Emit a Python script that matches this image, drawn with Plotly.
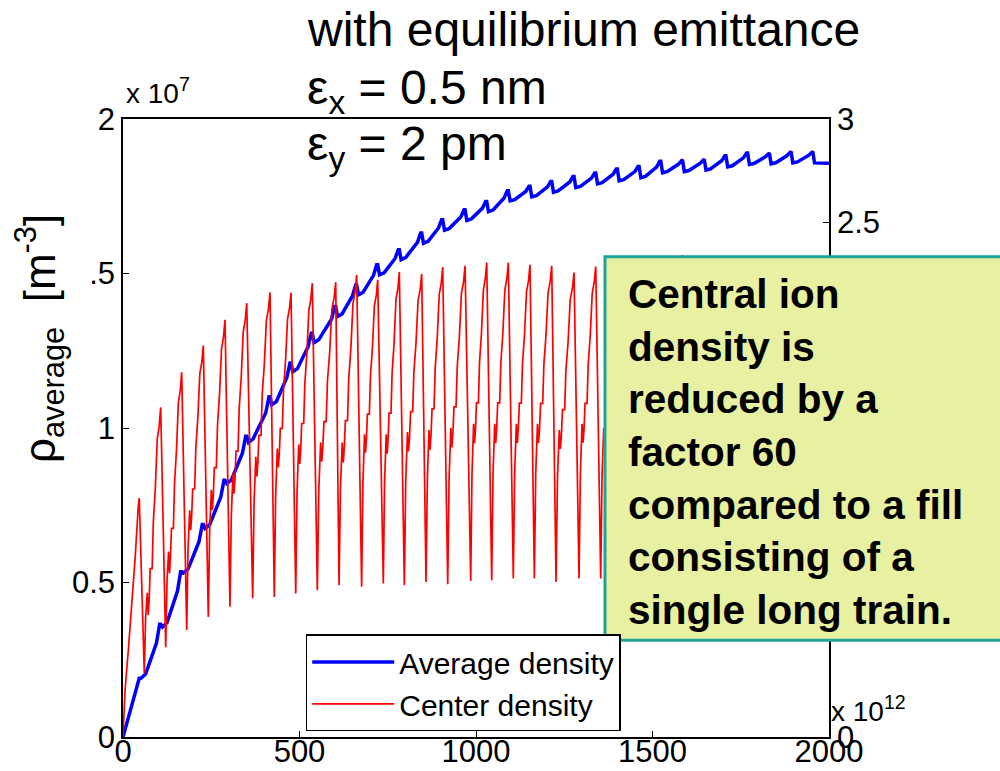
import plotly.graph_objects as go

# ---------------- data ----------------
# Center density (right axis, x1e12): start of first train
red_start_x = [0, 2, 5.7, 15, 24.6, 34, 43.3]
red_start_y = [0, 0.10, 0.227, 0.42, 0.63, 0.86, 1.12]

# peaks of each train (end of train) and the trough after each gap
red_peak_x = [46, 106.8, 166.3, 227.5, 289, 350.5, 416.5, 476, 536.3, 602.6, 662, 721.6,
              782.8, 846.2, 905.7, 969, 1030.4, 1091.6, 1153, 1214.5, 1277.7, 1339.2,
              1400.5, 1462, 1523.5, 1585, 1646.5, 1708, 1769.5, 1831, 1892.5, 1954, 2015.5]
red_peak_y = [1.16, 1.60, 1.77, 1.90, 2.025, 2.106, 2.158, 2.157, 2.203, 2.208, 2.243, 2.219,
              2.257, 2.248, 2.281, 2.287, 2.303, 2.303, 2.292, 2.287, 2.255, 2.284,
              2.29, 2.29, 2.30, 2.34, 2.30, 2.30, 2.31, 2.30, 2.31, 2.30, 2.30]
red_trough_x = [60.3, 121, 180.5, 241.7, 303, 367.4, 428.6, 489.3, 550.5, 612, 676, 737.4,
                797, 858.4, 919.9, 985, 1044.5, 1105.7, 1165.3, 1226.7, 1291.9, 1353.3,
                1414.5, 1476, 1537.5, 1599, 1660.5, 1722, 1783.5, 1845, 1906.5, 1968]
red_trough_y = [0.31, 0.436, 0.52, 0.583, 0.632, 0.674, 0.68, 0.697, 0.713, 0.737, 0.729, 0.745,
                0.737, 0.753, 0.741, 0.757, 0.761, 0.77, 0.77, 0.753, 0.77, 0.77,
                0.77, 0.77, 0.77, 0.77, 0.77, 0.77, 0.77, 0.77, 0.77, 0.77]
# level reached just after the fast rise following each trough
red_mid_y = [0.70, 0.90, 1.10, 1.20, 1.28, 1.36, 1.40, 1.42, 1.43, 1.43, 1.47, 1.47,
             1.48, 1.49, 1.50, 1.52, 1.52, 1.52, 1.52, 1.49, 1.52, 1.50,
             1.52, 1.52, 1.52, 1.52, 1.52, 1.52, 1.52, 1.52, 1.52, 1.52]

# Average density (left axis, x1e7): value at end of each train and after each gap
blue_hi = [0.19, 0.365, 0.535, 0.688, 0.831, 0.973, 1.101, 1.21, 1.307, 1.393, 1.463, 1.528,
           1.577, 1.631, 1.674, 1.706, 1.733, 1.768, 1.782, 1.798, 1.814, 1.825,
           1.838, 1.846, 1.863, 1.868, 1.87, 1.881, 1.89, 1.89, 1.895, 1.895]
blue_lo = [0.19, 0.356, 0.531, 0.675, 0.82, 0.953, 1.075, 1.182, 1.276, 1.361, 1.431, 1.496,
           1.545, 1.598, 1.64, 1.672, 1.70, 1.735, 1.748, 1.763, 1.778, 1.79,
           1.80, 1.81, 1.826, 1.83, 1.835, 1.845, 1.853, 1.855, 1.858, 1.858]
blue_end_x = 2000
blue_end_y = 1.857

x_ticks = [0, 500, 1000, 1500, 2000]
x_tick_text = ["0", "500", "1000", "1500", "2000"]
yl_ticks = [0, 0.5, 1, 1.5, 2]
yl_tick_text = ["0", "0.5", "1", ".5", "2"]
yr_ticks = [0, 0.5, 1, 1.5, 2, 2.5, 3]
yr_tick_text = ["0", "", "1", "1.5", "2", "2.5", "3"]

# ---------------- build polylines ----------------
# shape of one staircase rise (fractions of the trough->peak interval)
rise_frac = [0.08, 0.18, 0.24, 0.30, 0.36, 0.48, 0.55, 0.67, 0.79, 0.91]

def rise(t, m, p):
    d = p - m
    return [t + 0.68 * (m - t), m, m - 0.12 * d, m - 0.03 * d, m + 0.13 * d,
            m + 0.13 * d, m + 0.38 * d, m + 0.56 * d, m + 0.83 * d, m + 0.90 * d]

red_x = list(red_start_x)
red_y = list(red_start_y)
n = len(red_trough_x)
for k in range(n):
    red_x.append(red_peak_x[k]); red_y.append(red_peak_y[k])
    xt, t = red_trough_x[k], red_trough_y[k]
    red_x.append(xt); red_y.append(t)
    L = red_peak_x[k + 1] - xt
    vals = rise(t, red_mid_y[k], red_peak_y[k + 1])
    for f, v in zip(rise_frac, vals):
        red_x.append(xt + f * L); red_y.append(v)
red_x.append(red_peak_x[n]); red_y.append(red_peak_y[n])

blue_x = [0]
blue_y = [0]
nb = len(blue_hi)
for k in range(nb):
    xp = red_peak_x[k]
    blue_x.append(xp); blue_y.append(blue_hi[k])
    blue_x.append(xp + 5); blue_y.append(blue_lo[k])
    if k + 1 < nb:
        xn = red_peak_x[k + 1]
        dlt = blue_hi[k + 1] - blue_lo[k]
        blue_x += [xp + 18, xn - 12, xn - 3]
        blue_y += [blue_lo[k] + 0.08 * dlt, blue_lo[k] + 0.65 * dlt, blue_hi[k + 1]]
blue_x.append(blue_end_x); blue_y.append(blue_end_y)

# ---------------- figure ----------------
FONT = "Liberation Sans, Arial, sans-serif"

fig = go.Figure()
fig.add_trace(go.Scatter(x=blue_x, y=blue_y, mode="lines", name="Average density",
                         line=dict(color="#0000ff", width=3.5), yaxis="y"))
fig.add_trace(go.Scatter(x=red_x, y=red_y, mode="lines", name="Center density",
                         line=dict(color="#ff0000", width=1.7), yaxis="y2"))

axis_common = dict(showgrid=False, zeroline=False, showline=True, linecolor="black",
                   linewidth=1.5, ticks="inside", ticklen=6, tickcolor="black",
                   automargin=False,
                   tickfont=dict(family=FONT, size=31, color="black"))

fig.update_layout(
    width=1000, height=771,
    margin=dict(l=123, r=171, t=119, b=34, pad=0),
    paper_bgcolor="white", plot_bgcolor="white",
    font=dict(family=FONT, color="black"),
    xaxis=dict(range=[0, 2000], tickvals=x_ticks, ticktext=x_tick_text, mirror=True,
               ticklabelstandoff=-14, **axis_common),
    yaxis=dict(range=[0, 2], tickvals=yl_ticks, ticktext=yl_tick_text, **axis_common),
    yaxis2=dict(range=[0, 3], tickvals=yr_ticks, ticktext=yr_tick_text, overlaying="y",
                side="right", **axis_common),
    legend=dict(x=0.2588, y=0.166, xanchor="left", yanchor="top",
                bgcolor="white", bordercolor="black", borderwidth=1.5,
                font=dict(family=FONT, size=30, color="black"),
                itemwidth=82, tracegroupgap=0),
    showlegend=True,
)

# yellow comment box
fig.add_shape(type="rect", xref="paper", yref="paper", x0=0.6827, x1=1.27, y0=0.1566, y1=0.777,
              fillcolor="#e8f0a2", line=dict(color="#1fa39b", width=3), layer="above")

fig.add_annotation(xref="paper", yref="paper", x=0.712, y=0.461, xanchor="left", yanchor="middle",
                   align="left", showarrow=False,
                   text="<b>Central ion<br>density is<br>reduced by a<br>factor 60<br>compared to a fill<br>consisting of a<br>single long train.</b>",
                   font=dict(family=FONT, size=40.5, color="black"))

# title lines
fig.add_annotation(xref="paper", yref="paper", x=0.2578, y=1.1446, xanchor="left", yanchor="middle",
                   showarrow=False, text="with equilibrium emittance",
                   font=dict(family=FONT, size=48, color="black"))
fig.add_annotation(xref="paper", yref="paper", x=0.2578, y=1.046, xanchor="left", yanchor="middle",
                   showarrow=False, text="ε<sub>x</sub> = 0.5 nm",
                   font=dict(family=FONT, size=48, color="black"))
fig.add_annotation(xref="paper", yref="paper", x=0.2578, y=0.955, xanchor="left", yanchor="middle",
                   showarrow=False, text="ε<sub>y</sub> = 2 pm",
                   font=dict(family=FONT, size=48, color="black"))

# exponent labels
fig.add_annotation(xref="paper", yref="paper", x=0.002, y=1.045, xanchor="left", yanchor="middle",
                   showarrow=False, text="x 10<sup>7</sup>",
                   font=dict(family=FONT, size=28, color="black"))
fig.add_annotation(xref="paper", yref="paper", x=1.0, y=0.045, xanchor="left", yanchor="middle",
                   showarrow=False, text="x 10<sup>12</sup>",
                   font=dict(family=FONT, size=28, color="black"))

# y-axis title
fig.add_annotation(xref="paper", yref="paper", x=-0.118, y=0.645, xanchor="center", yanchor="middle",
                   showarrow=False, textangle=-90,
                   text="ρ<sub>average</sub>  [m<sup>-3</sup>]",
                   font=dict(family=FONT, size=44, color="black"))

fig.write_html("out.html")
